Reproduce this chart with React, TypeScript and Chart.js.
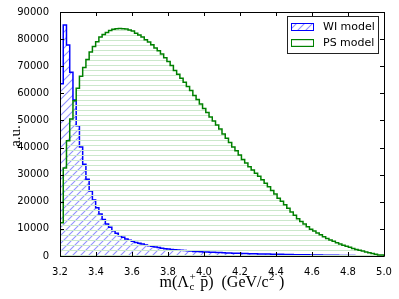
import React, { useEffect, useRef } from 'react';
import { Chart, registerables } from 'chart.js';

Chart.register(...registerables);

// Histogram binning: 100 bins from 3.2 to 5.0 GeV/c^2
const binStart = 3.2;
const binWidth = 0.018;

const wiModel = [
  0, 63500, 85200, 77800, 67800, 57500, 48000, 40200, 33800, 28300,
  24000, 20700, 17800, 15500, 13500, 11800, 10600, 9300, 8400, 7500,
  6900, 6300, 5800, 5400, 5000, 4700, 4400, 4100, 3800, 3600,
  3300, 3100, 2900, 2700, 2600, 2400, 2300, 2200, 2100, 2000,
  1900, 1800, 1700, 1650, 1600, 1500, 1450, 1400, 1350, 1300,
  1250, 1200, 1150, 1100, 1050, 1000, 980, 950, 900, 870,
  840, 810, 780, 750, 720, 700, 670, 650, 620, 600,
  580, 550, 530, 500, 480, 460, 440, 420, 400, 380,
  360, 340, 320, 300, 280, 260, 240, 220, 200, 180,
  160, 140, 120, 100, 85, 70, 55, 40, 25, 10,
];

const psModel = [
  0, 12300, 32500, 42500, 50500, 57300, 61900, 66300, 69500, 72500,
  75200, 77300, 79000, 80800, 81700, 82400, 83200, 83600, 83800, 83900,
  83800, 83700, 83400, 83000, 82200, 81500, 80800, 79800, 78900, 77900,
  76700, 75700, 74500, 73100, 71700, 70300, 68400, 67000, 65600, 64100,
  62500, 61000, 59200, 57700, 56100, 54400, 52900, 51300, 49800, 48300,
  46800, 45000, 43400, 41900, 40200, 38800, 37300, 35600, 34300, 32900,
  31700, 30500, 29400, 28100, 26800, 25500, 24200, 22900, 21300, 20200,
  18900, 17600, 16200, 15000, 13700, 12700, 11800, 10800, 9900, 9200,
  8500, 7800, 7100, 6500, 5900, 5400, 4900, 4400, 4000, 3600,
  3200, 2800, 2400, 2100, 1800, 1500, 1200, 900, 650, 350,
];

const xTicks = [3.2, 3.4, 3.6, 3.8, 4.0, 4.2, 4.4, 4.6, 4.8, 5.0];
const yTicks = [0, 10000, 20000, 30000, 40000, 50000, 60000, 70000, 80000, 90000];
const seriesLabels = ['WI model', 'PS model'];
const seriesColors = ['#0000ff', '#008000'];
const hatchColors = ['rgb(145,145,255)', '#cbe8cb'];

function histPoints(values: number[]) {
  const pts = values.map((v, i) => ({ x: binStart + i * binWidth, y: v }));
  const end = binStart + values.length * binWidth;
  pts.push({ x: end, y: values[values.length - 1] });
  pts.push({ x: end, y: 0 });
  return pts;
}

function diagPattern(color: string, p: number): CanvasPattern | string {
  const c = document.createElement('canvas');
  c.width = p;
  c.height = p;
  const g = c.getContext('2d');
  if (!g) return color;
  g.strokeStyle = color;
  g.lineWidth = 1.1;
  g.beginPath();
  g.moveTo(-1, p + 1);
  g.lineTo(p + 1, -1);
  g.moveTo(-2, 2);
  g.lineTo(2, -2);
  g.moveTo(p - 2, p + 2);
  g.lineTo(p + 2, p - 2);
  g.stroke();
  return g.createPattern(c, 'repeat') || color;
}

function horizPattern(color: string, p: number): CanvasPattern | string {
  const c = document.createElement('canvas');
  c.width = 4;
  c.height = p;
  const g = c.getContext('2d');
  if (!g) return color;
  g.fillStyle = color;
  g.fillRect(0, 0, 4, 1);
  return g.createPattern(c, 'repeat') || color;
}

function drawXTitle(ctx: CanvasRenderingContext2D, cx: number, baseline: number) {
  const fs = 16;
  const main = `${fs}px "Liberation Serif"`;
  const small = `${Math.round(fs * 0.7)}px "Liberation Serif"`;
  type Part = { t?: string; sup?: string; sub?: string };
  const parts: Part[] = [
    { t: 'm(\u039B' },
    { sup: '+', sub: 'c' },
    { t: ' p\u0304)  (GeV/c' },
    { sup: '2' },
    { t: ' )' },
  ];
  const widths = parts.map((p) => {
    if (p.t !== undefined) {
      ctx.font = main;
      return ctx.measureText(p.t).width;
    }
    ctx.font = small;
    return Math.max(p.sup ? ctx.measureText(p.sup).width : 0, p.sub ? ctx.measureText(p.sub).width : 0) + 1;
  });
  const total = widths.reduce((a, b) => a + b, 0);
  let x = cx - total / 2;
  ctx.fillStyle = '#000';
  ctx.textAlign = 'left';
  ctx.textBaseline = 'alphabetic';
  parts.forEach((p, i) => {
    if (p.t !== undefined) {
      ctx.font = main;
      ctx.fillText(p.t, x, baseline);
    } else {
      ctx.font = small;
      if (p.sup) ctx.fillText(p.sup, x + 0.5, baseline - fs * 0.42);
      if (p.sub) ctx.fillText(p.sub, x + 0.5, baseline + fs * 0.22);
    }
    x += widths[i];
  });
}

export default function App() {
  const ref = useRef<HTMLCanvasElement | null>(null);

  useEffect(() => {
    document.body.style.margin = '0';
    const canvas = ref.current;
    if (!canvas) return;

    const patterns = [diagPattern(hatchColors[0], 8), horizPattern(hatchColors[1], 5)];

    const frame = {
      id: 'frame',
      afterDatasetsDraw(chart: any) {
        const { ctx, chartArea: a } = chart;
        const xs = chart.scales.x;
        const ys = chart.scales.y;
        ctx.save();
        ctx.strokeStyle = '#000';
        ctx.lineWidth = 1;
        ctx.beginPath();
        ctx.rect(a.left + 0.5, a.top + 0.5, a.right - a.left, a.bottom - a.top);
        const tl = 4;
        xTicks.forEach((v) => {
          const px = Math.round(xs.getPixelForValue(v)) + 0.5;
          ctx.moveTo(px, a.bottom);
          ctx.lineTo(px, a.bottom - tl);
          ctx.moveTo(px, a.top);
          ctx.lineTo(px, a.top + tl);
        });
        yTicks.forEach((v) => {
          const py = Math.round(ys.getPixelForValue(v)) + 0.5;
          ctx.moveTo(a.left, py);
          ctx.lineTo(a.left + tl, py);
          ctx.moveTo(a.right, py);
          ctx.lineTo(a.right - tl, py);
        });
        ctx.stroke();

        // legend
        const lx = 287.5, ly = 16.5, lw = 91, lh = 37;
        ctx.fillStyle = '#fff';
        ctx.fillRect(lx, ly, lw, lh);
        ctx.strokeStyle = '#222';
        ctx.strokeRect(lx, ly, lw, lh);
        seriesLabels.forEach((lab, i) => {
          const ry = 23 + i * 16;
          ctx.fillStyle = patterns[i] as any;
          ctx.fillRect(291, ry, 22, 7);
          ctx.strokeStyle = seriesColors[i];
          ctx.lineWidth = 1;
          ctx.strokeRect(291.5, ry + 0.5, 22, 7);
          ctx.fillStyle = '#000';
          ctx.font = '11px "DejaVu Sans"';
          ctx.textAlign = 'left';
          ctx.textBaseline = 'middle';
          ctx.fillText(lab, 323, ry + 4);
        });

        // axis titles
        drawXTitle(ctx, (a.left + a.right) / 2, 286.5);
        ctx.save();
        ctx.translate(20, (a.top + a.bottom) / 2 + 2);
        ctx.rotate(-Math.PI / 2);
        ctx.font = '15px "Liberation Serif"';
        ctx.fillStyle = '#000';
        ctx.textAlign = 'center';
        ctx.textBaseline = 'alphabetic';
        ctx.fillText('a.u.', 0, 0);
        ctx.restore();
        ctx.restore();
      },
    };

    const chart = new Chart(canvas, {
      type: 'line',
      data: {
        datasets: [
          {
            label: seriesLabels[0],
            data: histPoints(wiModel),
            stepped: 'after',
            borderColor: seriesColors[0],
            borderWidth: 1.5,
            backgroundColor: patterns[0] as any,
            fill: 'origin',
            pointRadius: 0,
            order: 2,
          },
          {
            label: seriesLabels[1],
            data: histPoints(psModel),
            stepped: 'after',
            borderColor: seriesColors[1],
            borderWidth: 1.5,
            backgroundColor: patterns[1] as any,
            fill: 'origin',
            pointRadius: 0,
            order: 1,
          },
        ],
      },
      options: {
        responsive: false,
        animation: false,
        devicePixelRatio: 1,
        layout: { padding: { left: 0, right: 15, top: 12, bottom: 0 } },
        plugins: { legend: { display: false }, tooltip: { enabled: false } },
        scales: {
          x: {
            type: 'linear',
            min: 3.2,
            max: 5.0,
            grid: { display: false },
            border: { display: false },
            afterBuildTicks: (s: any) => {
              s.ticks = xTicks.map((v) => ({ value: v }));
            },
            afterFit: (s: any) => {
              s.height = 43;
            },
            ticks: {
              autoSkip: false,
              maxRotation: 0,
              padding: 2,
              color: '#000',
              font: { family: 'DejaVu Sans', size: 10 },
              callback: (v: any) => Number(v).toFixed(1),
            },
          },
          y: {
            type: 'linear',
            min: 0,
            max: 90000,
            grid: { display: false },
            border: { display: false },
            afterBuildTicks: (s: any) => {
              s.ticks = yTicks.map((v) => ({ value: v }));
            },
            afterFit: (s: any) => {
              s.width = 60;
            },
            ticks: {
              autoSkip: false,
              padding: 3,
              color: '#000',
              font: { family: 'DejaVu Sans', size: 10 },
              callback: (v: any) => String(v),
            },
          },
        },
      },
      plugins: [frame],
    });

    return () => chart.destroy();
  }, []);

  return (
    <div style={{ width: 399, height: 299 }}>
      <canvas ref={ref} width={399} height={299} />
    </div>
  );
}
